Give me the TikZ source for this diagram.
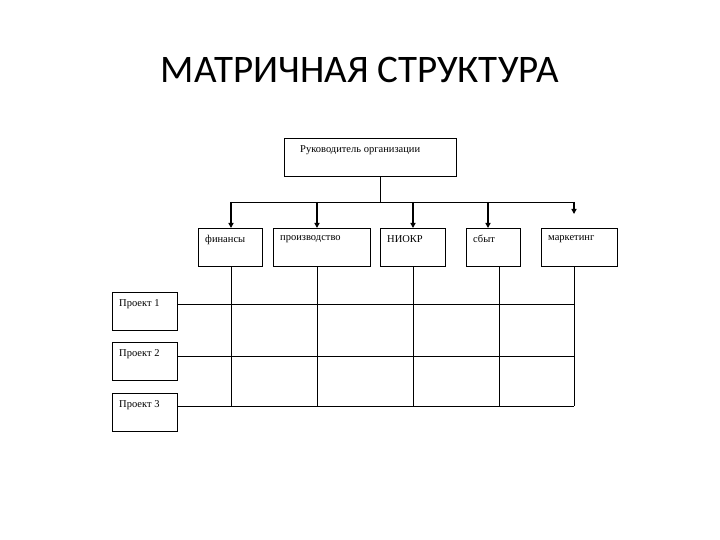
\documentclass[tikz,border=0pt]{standalone}
\usepackage{fontspec}
\setmainfont{Liberation Serif}
\newfontfamily\titlefont{Carlito}
\usetikzlibrary{arrows.meta}
\begin{document}
\begin{tikzpicture}[x=1pt,y=-1pt,
  box/.style={draw,line width=0.9pt,anchor=north west,inner sep=0pt},
  lbl/.style={anchor=north west,inner sep=0pt,font=\fontsize{10.5}{12}\selectfont},
  ln/.style={line width=0.9pt},
  arr/.style={line width=1.6pt,-{Triangle[length=5pt,width=5pt]}}]
\useasboundingbox (0,0) rectangle (720,540);
\node[font=\titlefont\fontsize{39}{44}\selectfont] (title) at (360,70) {МАТРИЧНАЯ СТРУКТУРА};
\node[box,minimum width=172pt,minimum height=38pt] (top) at (284,138) {};
\node[lbl] at (300,145) {Руководитель организации};
\foreach \n/\x/\w/\t in {f/198/64/финансы, p/273/97/производство, n/380/65/НИОКР, s/466/54/сбыт, m/541/76/маркетинг}{
  \node[box,minimum width=\w pt,minimum height=38pt] (\n) at (\x,228) {};
  \node[lbl] at (\x+7,235) {\t};
}
\foreach \n/\y/\t in {p1/292/Проект 1, p2/342/Проект 2, p3/393/Проект 3}{
  \node[box,minimum width=65pt,minimum height=38pt] (\n) at (112,\y) {};
  \node[lbl] at (119,299-292+\y) {\t};
}
\coordinate (b) at (380,202);
\draw[ln] (top.south -| b) -- (b);
\draw[ln] (231,202) -- (574,202);
\foreach \x in {231,317,413,488}{ \draw[arr] (\x,202) -- (\x,228); }
\draw[arr] (574,202) -- (574,214);
\foreach \x in {231,317,413,499,574}{ \draw[ln] (\x,266) -- (\x,406); }
\draw[ln] (p1.east |- 0,304) -- (574,304);
\draw[ln] (p2.east |- 0,356) -- (574,356);
\draw[ln] (p3.east |- 0,406) -- (574,406);
\end{tikzpicture}
\end{document}
